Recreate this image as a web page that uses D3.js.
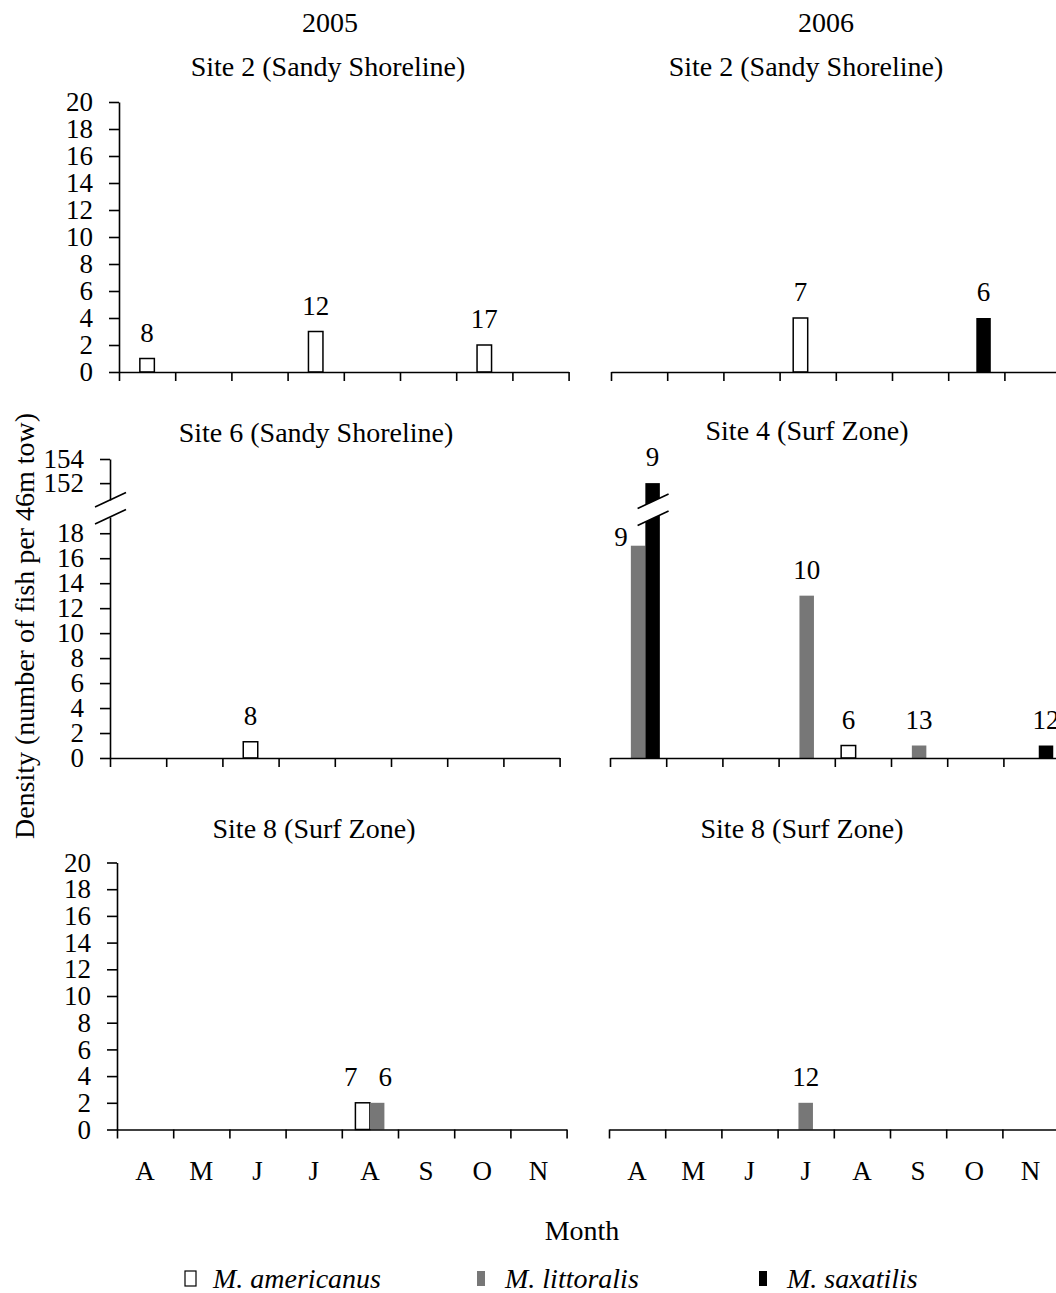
<!DOCTYPE html>
<html>
<head>
<meta charset="utf-8">
<script src="https://cdn.jsdelivr.net/npm/d3@7"></script>
<style>
body { margin: 0; background: #fff; }
svg text { font-family: "Liberation Serif", "Times New Roman", serif; fill: #000; }
.tick text { font-size: 27px; }
.lbl { font-size: 27px; }
.ttl { font-size: 28px; }
</style>
</head>
<body>
<script>
var months = ["Apr", "May", "Jun", "Jul", "Aug", "Sep", "Oct", "Nov"];
var monthLabels = ["A", "M", "J", "J", "A", "S", "O", "N"];
var species = ["M. americanus", "M. littoralis", "M. saxatilis"];
var speciesFill = ["#fff", "#777", "#000"];

// density = fish per 46 m tow, n = label printed over the bar
var site2_2005 = [
    {month: "Apr", sp: "M. americanus", density: 1, n: 8},
    {month: "Jul", sp: "M. americanus", density: 3, n: 12},
    {month: "Oct", sp: "M. americanus", density: 2, n: 17}
];
var site2_2006 = [
    {month: "Jul", sp: "M. americanus", density: 4, n: 7},
    {month: "Oct", sp: "M. saxatilis", density: 4, n: 6}
];
var site6_2005 = [
    {month: "Jun", sp: "M. americanus", density: 1.3, n: 8}
];
var site4_2006 = [
    {month: "Apr", sp: "M. littoralis", density: 17, n: 9},
    {month: "Apr", sp: "M. saxatilis", density: 152, n: 9},
    {month: "Jul", sp: "M. littoralis", density: 13, n: 10},
    {month: "Aug", sp: "M. americanus", density: 1, n: 6},
    {month: "Sep", sp: "M. littoralis", density: 1, n: 13},
    {month: "Nov", sp: "M. saxatilis", density: 1, n: 12}
];
var site8_2005 = [
    {month: "Aug", sp: "M. americanus", density: 2, n: 7},
    {month: "Aug", sp: "M. littoralis", density: 2, n: 6}
];
var site8_2006 = [
    {month: "Jul", sp: "M. littoralis", density: 2, n: 12}
];
var lowTicks = [0, 2, 4, 6, 8, 10, 12, 14, 16, 18, 20];
var brokenLowTicks = [0, 2, 4, 6, 8, 10, 12, 14, 16, 18];
var brokenHighTicks = [152, 154];

var width = 1056, height = 1293,
    monthStep = 56.2,
    barW = 14.5;

var svg = d3.select("body").append("svg")
    .attr("width", width)
    .attr("height", height);

// broken axis: low part 0..19.3, high part 150.6..154
var brk = {lowMax: 19.3, lowTop: 517, highMin: 150.6, highMax: 154, highBottom: 500, highTop: 459};

var panels = [
    {title: "Site 2 (Sandy Shoreline)", data: site2_2005, x0: 119, base: 372, top: 102, yAxis: true, tx: 328, ty: 76},
    {title: "Site 2 (Sandy Shoreline)", data: site2_2006, x0: 611, base: 372, top: 102, yAxis: false, tx: 806, ty: 76},
    {title: "Site 6 (Sandy Shoreline)", data: site6_2005, x0: 110, base: 758, brk: brk, yAxis: true, tx: 316, ty: 442},
    {title: "Site 4 (Surf Zone)", data: site4_2006, x0: 610, base: 758, brk: brk, yAxis: false, tx: 807, ty: 440},
    {title: "Site 8 (Surf Zone)", data: site8_2005, x0: 117, base: 1129.5, top: 862.5, yAxis: true, months: true, tx: 314, ty: 838},
    {title: "Site 8 (Surf Zone)", data: site8_2006, x0: 609, base: 1129.5, top: 862.5, yAxis: false, months: true, tx: 802, ty: 838}
];

function styleAxis(g) {
    g.attr("font-size", null).attr("font-family", null);
    g.selectAll("path, line").attr("stroke", "#000").attr("stroke-width", 1.6);
}

function slash(g, cx, cy) {
    g.append("line")
        .attr("x1", cx - 15).attr("y1", cy + 7)
        .attr("x2", cx + 16).attr("y2", cy - 7.5)
        .attr("stroke", "#000").attr("stroke-width", 1.6);
}

function yAxis(scale, ticks) {
    return d3.axisLeft(scale).tickValues(ticks).tickFormat(d3.format("d"))
        .tickSize(10).tickPadding(16).tickSizeOuter(0);
}

function drawPanel(p) {
    var g = svg.append("g");
    var x = d3.scaleLinear().domain([0, months.length]).range([p.x0, p.x0 + months.length * monthStep]);
    var band = d3.scaleBand().domain(months).range(x.range());
    var present = species.filter(function(s){ return p.data.some(function(d){ return d.sp == s; }); });
    var sub = d3.scaleBand().domain(present)
        .range([-present.length * barW / 2, present.length * barW / 2]);

    var yLow, yHigh;
    if (p.brk) {
        yLow = d3.scaleLinear().domain([0, p.brk.lowMax]).range([p.base, p.brk.lowTop]);
        yHigh = d3.scaleLinear().domain([p.brk.highMin, p.brk.highMax]).range([p.brk.highBottom, p.brk.highTop]);
    } else {
        yLow = d3.scaleLinear().domain([0, 20]).range([p.base, p.top]);
    }
    var yv = function(v){ return (yHigh && v > p.brk.lowMax) ? yHigh(v) : yLow(v); };

    g.append("text").attr("class", "ttl")
        .attr("x", p.tx).attr("y", p.ty)
        .attr("text-anchor", "middle")
        .text(p.title);

    // y axis
    if (p.yAxis) {
        if (p.brk) {
            g.append("g").attr("transform", "translate(" + p.x0 + ",0)")
                .call(yAxis(yLow, brokenLowTicks))
                .call(styleAxis);
            g.append("g").attr("transform", "translate(" + p.x0 + ",0)")
                .call(yAxis(yHigh, brokenHighTicks))
                .call(styleAxis);
            slash(g, p.x0, p.brk.highBottom);
            slash(g, p.x0, p.brk.lowTop);
        } else {
            g.append("g").attr("transform", "translate(" + p.x0 + ",0)")
                .call(yAxis(yLow, lowTicks))
                .call(styleAxis);
        }
    }

    // bars
    var bx = function(d){ return band(d.month) + band.bandwidth() / 2 + sub(d.sp); };
    g.selectAll("rect.bar").data(p.data).enter().append("rect")
        .attr("class", "bar")
        .attr("x", bx)
        .attr("width", sub.bandwidth())
        .attr("y", function(d){ return yv(d.density); })
        .attr("height", function(d){ return p.base - yv(d.density); })
        .attr("fill", function(d){ return speciesFill[species.indexOf(d.sp)]; })
        .attr("stroke", function(d){ return d.sp == species[0] ? "#000" : "none"; })
        .attr("stroke-width", 1.5);

    // broken bars
    p.data.filter(function(d){ return p.brk && d.density > p.brk.lowMax; }).forEach(function(d){
        var cx = bx(d) + sub.bandwidth() / 2;
        var a = p.brk.highBottom, b = p.brk.lowTop;
        g.append("polygon")
            .attr("points", [[cx - 15, a + 8.5], [cx + 16, a - 6], [cx + 16, b - 6], [cx - 15, b + 8.5]].join(" "))
            .attr("fill", "#fff");
        slash(g, cx, a + 1.5);
        slash(g, cx, b + 1.5);
    });

    // count labels
    var byMonth = d3.group(p.data, function(d){ return d.month; });
    p.data.forEach(function(d){
        var left = bx(d), top = yv(d.density), cx = left + sub.bandwidth() / 2;
        var lx = cx, ly = top - 17, anchor = "middle";
        var grp = byMonth.get(d.month);
        if (grp.length == 2) {
            var i = grp.indexOf(d), other = grp[1 - i];
            var otherTop = yv(other.density);
            if (i == 0 && otherTop < top - 30) {
                lx = left - 3; ly = top; anchor = "end";
            } else if (Math.abs(otherTop - top) < 30) {
                lx = cx + (i == 0 ? -12 : 8);
            }
        }
        g.append("text").attr("class", "lbl")
            .attr("x", lx).attr("y", ly)
            .attr("text-anchor", anchor)
            .text(d.n);
    });

    // x axis (ticks between months)
    g.append("g").attr("transform", "translate(0," + p.base + ")")
        .call(d3.axisBottom(x).tickValues(d3.range(months.length + 1)).tickFormat("").tickSize(9).tickSizeOuter(0))
        .call(styleAxis);

    if (p.months) {
        g.selectAll("text.mon").data(months).enter().append("text")
            .attr("class", "lbl")
            .attr("x", function(m){ return band(m) + band.bandwidth() / 2; })
            .attr("y", p.base + 50)
            .attr("text-anchor", "middle")
            .text(function(m, i){ return monthLabels[i]; });
    }
}

panels.forEach(drawPanel);

// years
svg.append("text").attr("class", "ttl").attr("x", 330).attr("y", 32).attr("text-anchor", "middle").text("2005");
svg.append("text").attr("class", "ttl").attr("x", 826).attr("y", 32).attr("text-anchor", "middle").text("2006");

// axis titles
svg.append("text").attr("class", "ttl")
    .attr("transform", "translate(24,626) rotate(-90)")
    .attr("dy", "0.35em")
    .attr("text-anchor", "middle")
    .text("Density (number of fish per 46m tow)");
svg.append("text").attr("class", "ttl")
    .attr("x", 582).attr("y", 1240)
    .attr("text-anchor", "middle")
    .text("Month");

// legend
var legendX = [185, 477, 759];
var lg = svg.selectAll("g.leg").data(species).enter().append("g")
    .attr("transform", function(d, i){ return "translate(" + legendX[i] + ",1271)"; });
lg.append("rect")
    .attr("width", function(d, i){ return i == 0 ? 11 : 8; })
    .attr("height", 15)
    .attr("fill", function(d, i){ return speciesFill[i]; })
    .attr("stroke", function(d, i){ return i == 0 ? "#000" : "none"; })
    .attr("stroke-width", 1.2);
lg.append("text").attr("class", "ttl")
    .attr("x", 28).attr("y", 17)
    .attr("font-style", "italic")
    .attr("font-size", "29px")
    .text(function(d){ return d; });
</script>
</body>
</html>
